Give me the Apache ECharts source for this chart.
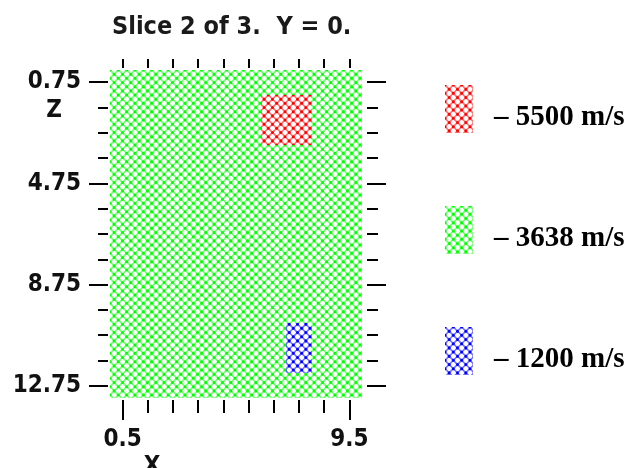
<!DOCTYPE html>
<html>
<head>
<meta charset="utf-8">
<script src="https://cdn.jsdelivr.net/npm/echarts@6/dist/echarts.min.js"></script>
<style>
  html, body { margin: 0; padding: 0; background: #ffffff; }
  #chart { width: 628px; height: 468px; }
</style>
</head>
<body>
<div id="chart"></div>
<script>
// Velocity model slice: cell centres along X and Z, and the velocity of each cell.
const xCells = [0.5, 1.5, 2.5, 3.5, 4.5, 5.5, 6.5, 7.5, 8.5, 9.5];
const zCells = [0.75, 1.75, 2.75, 3.75, 4.75, 5.75, 6.75, 7.75, 8.75, 9.75, 10.75, 11.75, 12.75];
const xRange = [0, 10];
const zRange = [0.25, 13.25];

const velocities = [5500, 3638, 1200];
const velocityColors = ['#ff0000', '#00ff00', '#0000ff'];

// One row per Z cell (top to bottom), one column per X cell (left to right), values in m/s.
const velocityGrid = [
  [3638, 3638, 3638, 3638, 3638, 3638, 3638, 3638, 3638, 3638],
  [3638, 3638, 3638, 3638, 3638, 3638, 5500, 5500, 3638, 3638],
  [3638, 3638, 3638, 3638, 3638, 3638, 5500, 5500, 3638, 3638],
  [3638, 3638, 3638, 3638, 3638, 3638, 3638, 3638, 3638, 3638],
  [3638, 3638, 3638, 3638, 3638, 3638, 3638, 3638, 3638, 3638],
  [3638, 3638, 3638, 3638, 3638, 3638, 3638, 3638, 3638, 3638],
  [3638, 3638, 3638, 3638, 3638, 3638, 3638, 3638, 3638, 3638],
  [3638, 3638, 3638, 3638, 3638, 3638, 3638, 3638, 3638, 3638],
  [3638, 3638, 3638, 3638, 3638, 3638, 3638, 3638, 3638, 3638],
  [3638, 3638, 3638, 3638, 3638, 3638, 3638, 3638, 3638, 3638],
  [3638, 3638, 3638, 3638, 3638, 3638, 3638, 1200, 3638, 3638],
  [3638, 3638, 3638, 3638, 3638, 3638, 3638, 1200, 3638, 3638],
  [3638, 3638, 3638, 3638, 3638, 3638, 3638, 3638, 3638, 3638]
];

// Tick positions
const zMajorTicks = [0.75, 4.75, 8.75, 12.75];
const zMinorTicks = [1.75, 2.75, 3.75, 5.75, 6.75, 7.75, 9.75, 10.75, 11.75];
const xMajorTicks = [0.5, 9.5];
const xMinorTicks = [1.5, 2.5, 3.5, 4.5, 5.5, 6.5, 7.5, 8.5];
const xTopTicks = [0.5, 1.5, 2.5, 3.5, 4.5, 5.5, 6.5, 7.5, 8.5, 9.5];

const TITLE = 'Slice 2 of 3.  Y = 0.';
const AXIS_FONT = "'DejaVu Sans Condensed', 'Liberation Sans Narrow', 'DejaVu Sans', sans-serif";
const LEGEND_FONT = "'Liberation Serif', 'Times New Roman', serif";

// Cross-hatch tile: 3 x 3 diamonds drawn at screen resolution.
const TILE = 25, PERIOD = TILE / 3;
function hatchCanvas(color) {
  const c = document.createElement('canvas');
  c.width = TILE; c.height = TILE;
  const g = c.getContext('2d');
  g.fillStyle = '#ffffff';
  g.fillRect(0, 0, TILE, TILE);
  g.strokeStyle = color;
  g.globalAlpha = 0.55;
  g.lineWidth = 1.7;
  g.beginPath();
  for (let k = -TILE; k <= 2 * TILE + 0.01; k += PERIOD) {
    g.moveTo(k, 0); g.lineTo(k + TILE, TILE);
    g.moveTo(k, 0); g.lineTo(k - TILE, TILE);
  }
  g.stroke();
  g.globalAlpha = 1;
  g.fillStyle = color;
  const dot = (x, y) => { g.beginPath(); g.arc(x, y, 1.5, 0, Math.PI * 2); g.fill(); };
  for (let i = 0; i <= TILE + 0.01; i += PERIOD) {
    for (let j = 0; j <= TILE + 0.01; j += PERIOD) {
      dot(i, j);
      dot(i + PERIOD / 2, j + PERIOD / 2);
    }
  }
  return c;
}
const hatches = velocityColors.map(hatchCanvas);

function cellsOf(v) {
  const out = [];
  zCells.forEach((z, zi) => xCells.forEach((x, xi) => {
    if (velocityGrid[zi][xi] === v) out.push([x, z]);
  }));
  return out;
}

const series = velocities.map((v, vi) => ({
  name: String(v),
  type: 'custom',
  coordinateSystem: 'cartesian2d',
  xAxisIndex: 0,
  yAxisIndex: 0,
  silent: true,
  animation: false,
  itemStyle: {
    color: { image: hatches[vi], repeat: 'repeat' }
  },
  encode: { x: 0, y: 1 },
  data: cellsOf(v),
  renderItem: function (params, api) {
    const x = api.value(0), z = api.value(1);
    const a = api.coord([x - 0.5, z - 0.5]);
    const b = api.coord([x + 0.5, z + 0.5]);
    const origin = api.coord([xRange[0], zRange[0]]);
    const x0 = Math.round(Math.min(a[0], b[0])), x1 = Math.round(Math.max(a[0], b[0]));
    const y0 = Math.round(Math.min(a[1], b[1])), y1 = Math.round(Math.max(a[1], b[1]));
    return {
      type: 'rect',
      shape: { x: x0, y: y0, width: x1 - x0, height: y1 - y0 },
      style: {
        fill: { image: hatches[vi], repeat: 'repeat', x: Math.round(origin[0]), y: Math.round(origin[1]) }
      }
    };
  }
}));

function labelFont() {
  return { fontFamily: AXIS_FONT, fontWeight: 'bold', fontSize: 24, color: '#111111' };
}

function zAxis(position, offset, ticks, len, labels, extra) {
  return Object.assign({
    type: 'value', min: zRange[0], max: zRange[1], inverse: true,
    position: position, offset: offset,
    axisLine: { show: false, onZero: false },
    splitLine: { show: false },
    axisTick: { show: true, customValues: ticks, length: len, lineStyle: { color: '#000000', width: 2 } },
    axisLabel: labels
      ? Object.assign({ show: true, customValues: labels, margin: 27 }, labelFont())
      : { show: false }
  }, extra || {});
}

function xAxis(position, offset, ticks, len, labels, extra) {
  return Object.assign({
    type: 'value', min: xRange[0], max: xRange[1],
    position: position, offset: offset,
    axisLine: { show: false, onZero: false },
    splitLine: { show: false },
    axisTick: { show: true, customValues: ticks, length: len, lineStyle: { color: '#000000', width: 2 } },
    axisLabel: labels
      ? Object.assign({ show: true, customValues: labels, margin: 28 }, labelFont())
      : { show: false }
  }, extra || {});
}

const chart = echarts.init(document.getElementById('chart'), null, { renderer: 'canvas' });
chart.setOption({
  animation: false,
  title: {
    text: TITLE,
    left: 112,
    top: 15,
    padding: 0,
    textStyle: { fontFamily: AXIS_FONT, fontWeight: 'bold', fontSize: 25, color: '#1a1a1a' }
  },
  grid: { left: 110, top: 69.5, width: 252, height: 329, outerBoundsMode: 'none' },
  legend: {
    orient: 'vertical',
    left: 445,
    top: 85,
    padding: 0,
    itemWidth: 28,
    itemHeight: 48,
    itemGap: 73,
    icon: 'rect',
    selectedMode: false,
    data: velocities.map(String),
    formatter: name => '\n\u2013 ' + name + ' m/s',
    textStyle: {
      fontFamily: LEGEND_FONT, fontWeight: 'bold', fontSize: 29, color: '#000000',
      lineHeight: 18,
      padding: [0, 0, 0, 16]
    }
  },
  xAxis: [
    xAxis('bottom', 1.5, xMajorTicks, 20, xMajorTicks, {
      name: 'X', nameLocation: 'start', nameGap: -42, nameMoveOverlap: false,
      nameTextStyle: Object.assign(labelFont(), { align: 'center', verticalAlign: 'top', padding: [55, 0, 0, 0] })
    }),
    xAxis('bottom', 1.5, xMinorTicks, 13, null),
    xAxis('top', 1.5, xTopTicks, 9, null)
  ],
  yAxis: [
    zAxis('left', 2, zMajorTicks, 19, zMajorTicks, {
      name: 'Z', nameLocation: 'start', nameGap: -41, nameMoveOverlap: false,
      nameTextStyle: Object.assign(labelFont(), { align: 'center', verticalAlign: 'middle', padding: [0, 108, 0, 0] })
    }),
    zAxis('left', 2, zMinorTicks, 10, null),
    zAxis('right', 5, zMajorTicks, 19, null),
    zAxis('right', 5, zMinorTicks, 11, null)
  ],
  series: series
});
</script>
</body>
</html>
